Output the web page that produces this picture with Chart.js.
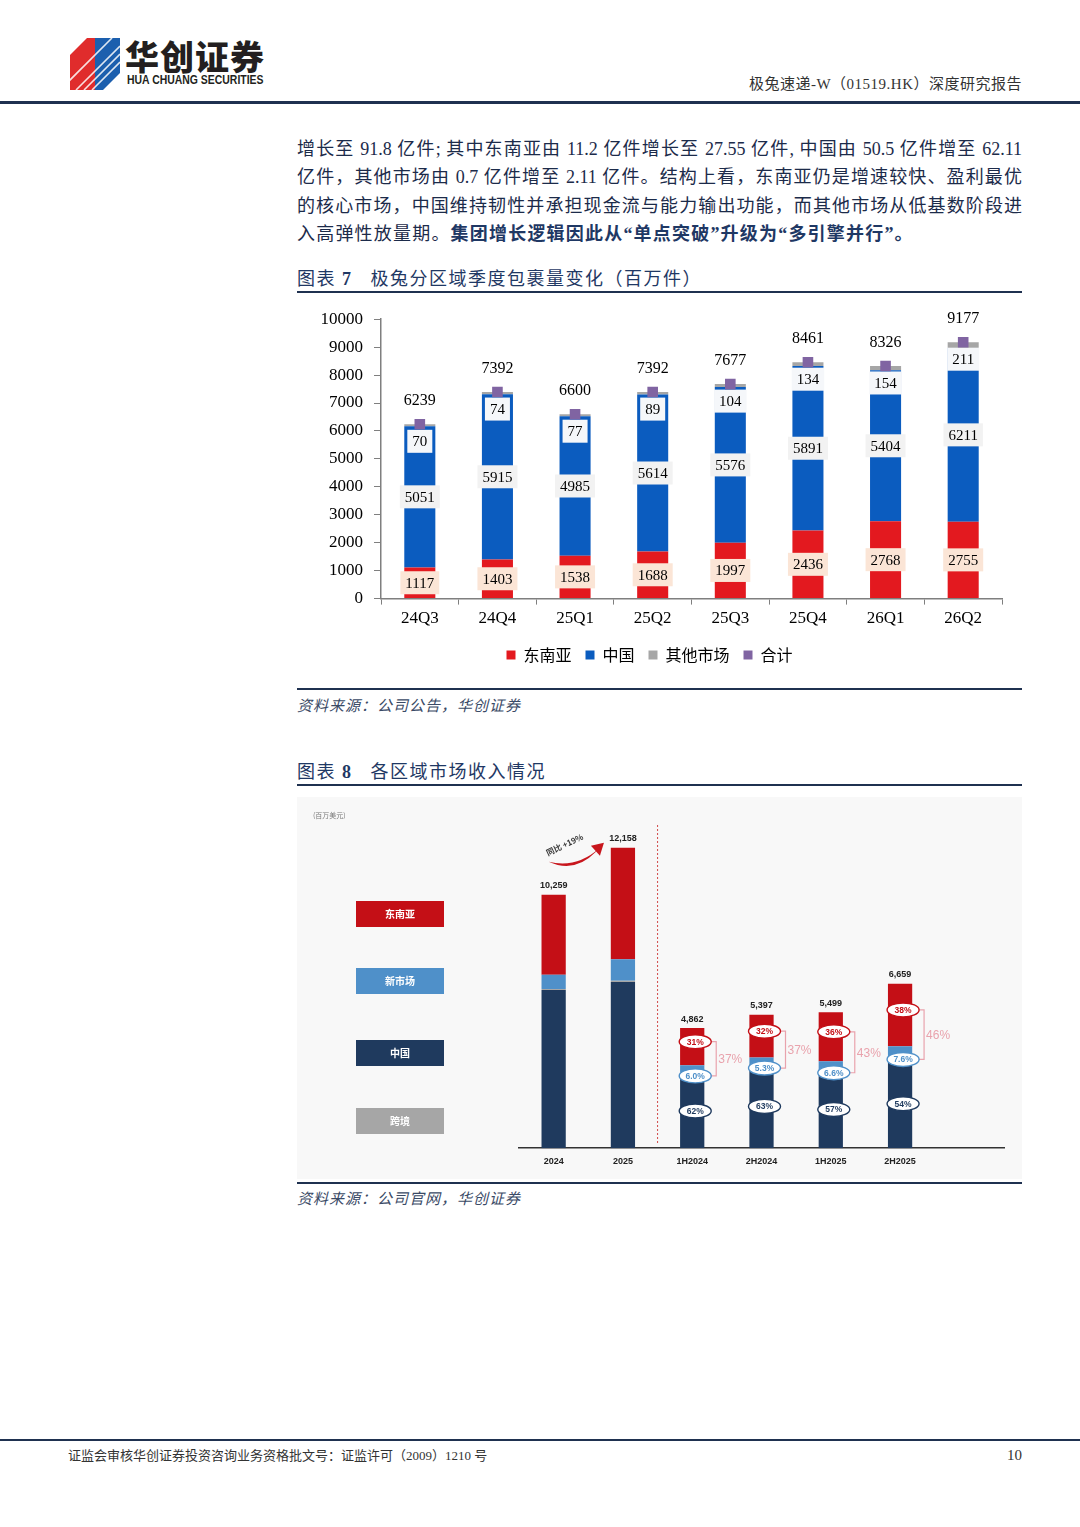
<!DOCTYPE html>
<html>
<head>
<meta charset="utf-8">
<script src="https://cdn.jsdelivr.net/npm/chart.js@4.4.1/dist/chart.umd.min.js"></script>
<style>
  body { margin: 0; width: 1080px; height: 1527px; background: #fff; position: relative; overflow: hidden;
         font-family: "Liberation Serif", "Noto Sans CJK SC", serif; color: #1c2b4a; }
  .abs { position: absolute; }
  .txt { position: absolute; left: 297px; width: 725px; height: 26px; line-height: 26px; font-size: 18px;
         text-align: justify; text-align-last: justify; }
  .rule { position: absolute; background: #1f3150; }
  .title { position: absolute; left: 297px; font-size: 18px; color: #1f3864; letter-spacing: 1.5px; }
  .src { position: absolute; left: 297px; font-size: 15px; font-style: italic; color: #3a4a66; letter-spacing: 1px; }
</style>
</head>
<body>
<!-- header -->
<svg class="abs" style="left:70px;top:38px" width="50" height="52" viewBox="0 0 50 52">
  <polygon points="0,17 17,0 25,0 25,52 0,52" fill="#e02c2c"/>
  <polygon points="25,0 50,0 50,35 33,52 25,52" fill="#1c5fae"/>
  <g stroke="#fff" stroke-width="1.6" opacity="0.85">
    <line x1="6" y1="52" x2="50" y2="8"/>
    <line x1="14" y1="52" x2="50" y2="16"/>
    <line x1="22" y1="52" x2="50" y2="24"/>
    <line x1="-2" y1="44" x2="42" y2="0"/>
  </g>
</svg>
<div class="abs" style="left:125px;top:36px;font-family:'Noto Sans CJK SC';font-weight:900;font-size:34px;color:#231f20;letter-spacing:1px;line-height:40px">华创证券</div>
<div class="abs" style="left:127px;top:73px;font-family:'Liberation Sans';font-weight:bold;font-size:12px;color:#231f20;line-height:14px;transform:scaleX(0.87);transform-origin:left top;white-space:nowrap">HUA CHUANG SECURITIES</div>
<div class="abs" style="right:58px;top:74px;font-size:15px;color:#333;line-height:20px;letter-spacing:0.5px">极兔速递-W（01519.HK）深度研究报告</div>
<div class="rule" style="left:0;top:101px;width:1080px;height:3px"></div>

<!-- body text -->
<div class="txt" style="top:136px">增长至 91.8 亿件; 其中东南亚由 11.2 亿件增长至 27.55 亿件, 中国由 50.5 亿件增至 62.11</div>
<div class="txt" style="top:164px">亿件，其他市场由 0.7 亿件增至 2.11 亿件。结构上看，东南亚仍是增速较快、盈利最优</div>
<div class="txt" style="top:193px">的核心市场，中国维持韧性并承担现金流与能力输出功能，而其他市场从低基数阶段进</div>
<div class="txt" style="top:221px;text-align-last:left;letter-spacing:1.2px">入高弹性放量期。<span style="color:#1f3864;font-weight:600">集团增长逻辑因此从“单点突破”升级为“多引擎并行”。</span></div>

<!-- figure 7 -->
<div class="title" style="top:264px">图表 <b>7</b>&nbsp;&nbsp;&nbsp;极兔分区域季度包裹量变化（百万件）</div>
<div class="rule" style="left:297px;top:291px;width:725px;height:2px"></div>
<div class="abs" style="left:297px;top:298px;width:725px;height:375px"><canvas id="c7"></canvas></div>
<div class="rule" style="left:297px;top:688px;width:725px;height:2px"></div>
<div class="src" style="top:694px">资料来源：公司公告，华创证券</div>

<!-- figure 8 -->
<div class="title" style="top:757px">图表 <b>8</b>&nbsp;&nbsp;&nbsp;各区域市场收入情况</div>
<div class="rule" style="left:297px;top:784px;width:725px;height:2px"></div>
<div class="abs" style="left:297px;top:795px;width:725px;height:386px"><canvas id="c8"></canvas></div>
<div class="rule" style="left:297px;top:1182px;width:725px;height:2px"></div>
<div class="src" style="top:1187px">资料来源：公司官网，华创证券</div>

<!-- footer -->
<div class="rule" style="left:0;top:1439px;width:1080px;height:2px"></div>
<div class="abs" style="left:68px;top:1447px;font-size:13px;color:#333;line-height:18px">证监会审核华创证券投资咨询业务资格批文号：证监许可（2009）1210 号</div>
<div class="abs" style="left:1007px;top:1446px;font-size:15px;color:#333;line-height:18px">10</div>

<script>
// ---- figure 7: quarterly parcel volume by region (million parcels)
const quarters = ['24Q3', '24Q4', '25Q1', '25Q2', '25Q3', '25Q4', '26Q1', '26Q2'];
const seaVol = [1117, 1403, 1538, 1688, 1997, 2436, 2768, 2755];
const chinaVol = [5051, 5915, 4985, 5614, 5576, 5891, 5404, 6211];
const otherVol = [70, 74, 77, 89, 104, 134, 154, 211];
const totalVol = [6239, 7392, 6600, 7392, 7677, 8461, 8326, 9177];

// ---- figure 8: revenue by region (USD million)
const periods = ['2024', '2025', '1H2024', '2H2024', '1H2025', '2H2025'];
const chinaRev = [6398, 6730, 3014, 3384, 3134, 3596];
const crossRev = [49, 49, 49, 0, 22, 27];
const newRev = [578, 869, 292, 286, 363, 506];
const seaRev = [3234, 4510, 1507, 1727, 1980, 2530];
const totalRev = [10259, 12158, 4862, 5397, 5499, 6659];
const seaPct = [null, null, '31%', '32%', '36%', '38%'];
const newPct = [null, null, '6.0%', '5.3%', '6.6%', '7.6%'];
const chinaPct = [null, null, '62%', '63%', '57%', '54%'];
const overseasPct = [null, null, '37%', '37%', '43%', '46%'];
const yoyText = '同比 +19%';

const SERIF = '"Liberation Serif", "Noto Sans CJK SC"';

function labelBox(ctx, x, y, text, bg) {
  const w = ctx.measureText(text).width + 10;
  ctx.fillStyle = bg;
  ctx.fillRect(x - w / 2, y - 11.5, w, 23);
  ctx.fillStyle = '#000';
  ctx.fillText(text, x, y + 1);
}

const labels7 = {
  id: 'labels7',
  afterDatasetDraw(chart, args) {
    if (args.index !== 0) return;
    const ctx = chart.ctx;
    const sea = chart.getDatasetMeta(0).data;
    const cn = chart.getDatasetMeta(1).data;
    const ot = chart.getDatasetMeta(2).data;
    ctx.save();
    ctx.font = '15px ' + SERIF;
    ctx.textAlign = 'center';
    ctx.textBaseline = 'middle';
    quarters.forEach((q, i) => {
      labelBox(ctx, sea[i].x, (sea[i].y + sea[i].base) / 2, String(seaVol[i]), '#fbe5d6');
      labelBox(ctx, cn[i].x, (cn[i].y + cn[i].base) / 2, String(chinaVol[i]), '#f2f2f2');
      labelBox(ctx, ot[i].x, ot[i].y + 17, String(otherVol[i]), '#f5f7fa');
    });
    ctx.restore();
  },
  afterDatasetsDraw(chart) {
    const ctx = chart.ctx;
    const pts = chart.getDatasetMeta(3).data;
    ctx.save();
    ctx.font = '16px ' + SERIF;
    ctx.fillStyle = '#000';
    ctx.textAlign = 'center';
    ctx.textBaseline = 'middle';
    pts.forEach((p, i) => ctx.fillText(String(totalVol[i]), p.x, p.y - 23));
    ctx.restore();
  }
};

new Chart(document.getElementById('c7'), {
  data: {
    labels: quarters,
    datasets: [
      { type: 'bar', label: '东南亚', data: seaVol, backgroundColor: '#e3191f', pointStyle: 'rect', order: 1 },
      { type: 'bar', label: '中国', data: chinaVol, backgroundColor: '#0b5cbf', pointStyle: 'rect', order: 1 },
      { type: 'bar', label: '其他市场', data: otherVol, backgroundColor: '#a6a6a6', pointStyle: 'rect', order: 1 },
      { type: 'line', label: '合计', data: totalVol, showLine: false, pointStyle: 'rect', pointRadius: 7.5,
        backgroundColor: '#8064a2', borderColor: '#8064a2', borderWidth: 0, order: 0 }
    ]
  },
  options: {
    responsive: true,
    maintainAspectRatio: false,
    animation: false,
    layout: { padding: { left: 0, right: 20, top: 6, bottom: 0 } },
    datasets: { bar: { barPercentage: 0.4, categoryPercentage: 1, stack: 's' } },
    scales: {
      x: {
        stacked: true,
        grid: { drawOnChartArea: false, offset: true, tickLength: 6, color: '#7f7f7f' },
        border: { color: '#7f7f7f', width: 1.5 },
        ticks: { color: '#000', font: { family: SERIF, size: 17 }, padding: 4 }
      },
      y: {
        stacked: true, min: 0, max: 10000,
        grid: { drawOnChartArea: false, tickLength: 7, color: '#7f7f7f' },
        border: { color: '#7f7f7f', width: 1.5 },
        ticks: { stepSize: 1000, color: '#000', font: { family: SERIF, size: 17 }, padding: 11,
                 callback: v => String(v) },
        afterFit(s) { s.width = 84; }
      }
    },
    plugins: {
      tooltip: { enabled: false },
      legend: {
        position: 'bottom',
        labels: { usePointStyle: true, boxWidth: 9, boxHeight: 9, padding: 14, color: '#000',
                  font: { family: '"Noto Sans CJK SC"', size: 16 },
                  sort: (a, b) => a.datasetIndex - b.datasetIndex }
      }
    }
  },
  plugins: [labels7]
});

// ---- figure 8 drawing helpers
function pctEllipse(ctx, x, y, text, color) {
  ctx.beginPath();
  ctx.ellipse(x, y, 16, 7, 0, 0, Math.PI * 2);
  ctx.fillStyle = '#fff';
  ctx.fill();
  ctx.lineWidth = 1.4;
  ctx.strokeStyle = color;
  ctx.stroke();
  ctx.fillStyle = color;
  ctx.fillText(text, x, y + 0.5);
}

const deco8 = {
  id: 'deco8',
  beforeDraw(chart) {
    const ctx = chart.ctx;
    ctx.save();
    ctx.fillStyle = '#f8f8f8';
    ctx.fillRect(0, 2, chart.width, chart.height - 4);
    ctx.restore();
  },
  afterDatasetsDraw(chart) {
    const ctx = chart.ctx;
    const ds = chart.data.datasets;
    const area = chart.chartArea;
    const xs = chart.scales.x;
    const cn = chart.getDatasetMeta(0).data;
    const nw = chart.getDatasetMeta(2).data;
    const se = chart.getDatasetMeta(3).data;
    ctx.save();

    // unit
    ctx.font = '7px "Noto Sans CJK SC"';
    ctx.fillStyle = '#777';
    ctx.textBaseline = 'middle';
    ctx.fillText('(百万美元)', 16, 20);

    // left legend boxes
    const order = ['东南亚', '新市场', '中国', '跨境'];
    const boxY = [106, 173, 245, 313];
    ctx.font = 'bold 10px "Noto Sans CJK SC"';
    ctx.textAlign = 'center';
    order.forEach((name, k) => {
      const d = ds.find(v => v.label === name);
      ctx.fillStyle = d.backgroundColor;
      ctx.fillRect(59, boxY[k], 88, 26);
      ctx.fillStyle = '#fff';
      ctx.fillText(name, 103, boxY[k] + 13);
    });

    // divider between annual and half-year bars
    const xd = (xs.getPixelForValue(1) + xs.getPixelForValue(2)) / 2;
    ctx.strokeStyle = '#d24a4a';
    ctx.lineWidth = 1;
    ctx.setLineDash([2, 2]);
    ctx.beginPath();
    ctx.moveTo(xd, area.top - 2);
    ctx.lineTo(xd, area.bottom - 5);
    ctx.stroke();
    ctx.setLineDash([]);

    // totals
    ctx.font = 'bold 9px "Liberation Sans"';
    ctx.fillStyle = '#222';
    periods.forEach((p, i) => {
      ctx.fillText(totalRev[i].toLocaleString('en-US'), se[i].x, se[i].y - 9);
    });

    // share ellipses and overseas brackets
    ctx.font = 'bold 8.5px "Liberation Sans"';
    periods.forEach((p, i) => {
      if (!seaPct[i]) return;
      const x = se[i].x + 3;
      const ySea = (se[i].y + se[i].base) / 2 - 5;
      const yNew = (nw[i].y + nw[i].base) / 2 + 7;
      const yCn = (cn[i].y + cn[i].base) / 2;
      const xb = x + 21;
      ctx.strokeStyle = '#e9a3ad';
      ctx.lineWidth = 1.2;
      ctx.beginPath();
      ctx.moveTo(x + 15, ySea); ctx.lineTo(xb, ySea); ctx.lineTo(xb, yNew); ctx.lineTo(x + 15, yNew);
      ctx.stroke();
      pctEllipse(ctx, x, ySea, seaPct[i], ds[3].backgroundColor);
      pctEllipse(ctx, x, yNew, newPct[i], ds[2].backgroundColor);
      pctEllipse(ctx, x, yCn, chinaPct[i], ds[0].backgroundColor);
      ctx.save();
      ctx.font = '12px "Liberation Sans"';
      ctx.fillStyle = '#e9a3ad';
      ctx.textAlign = 'left';
      ctx.fillText(overseasPct[i], xb + 2, (ySea + yNew) / 2 + 1);
      ctx.restore();
    });

    // yoy arrow between the two annual bars
    const x0 = se[0].x, y0 = se[0].y, x1 = se[1].x, y1 = se[1].y;
    const sx = x0 - 5, sy = y0 - 33;
    const tx = x1 - 19, ty = y1 - 5;
    ctx.fillStyle = '#c8161d';
    ctx.beginPath();
    ctx.moveTo(sx, sy);
    ctx.quadraticCurveTo(sx + 26, sy + 12, tx - 8, ty + 9);
    ctx.lineTo(tx - 4, ty + 5);
    ctx.quadraticCurveTo(sx + 28, sy + 7, sx, sy);
    ctx.fill();
    ctx.beginPath();
    ctx.moveTo(tx, ty);
    ctx.lineTo(tx - 13, ty + 3);
    ctx.lineTo(tx - 4, ty + 13);
    ctx.closePath();
    ctx.fill();
    ctx.save();
    ctx.translate(x0 + 11, y0 - 50);
    ctx.rotate(-0.45);
    ctx.font = 'bold 8px "Noto Sans CJK SC"';
    ctx.fillStyle = '#333';
    ctx.fillText(yoyText, 0, 0);
    ctx.restore();

    ctx.restore();
  }
};

new Chart(document.getElementById('c8'), {
  type: 'bar',
  data: {
    labels: [...periods, ''],
    datasets: [
      { label: '中国', data: chinaRev, backgroundColor: '#1f3a5e' },
      { label: '跨境', data: crossRev, backgroundColor: '#a6a6a6' },
      { label: '新市场', data: newRev, backgroundColor: '#4f90c9' },
      { label: '东南亚', data: seaRev, backgroundColor: '#c40f16' }
    ]
  },
  options: {
    responsive: true,
    maintainAspectRatio: false,
    animation: false,
    layout: { padding: { left: 222, right: 18, top: 32, bottom: 14 } },
    datasets: { bar: { barPercentage: 0.35, categoryPercentage: 1 } },
    scales: {
      x: {
        stacked: true,
        grid: { display: false },
        border: { color: '#333', width: 1.5 },
        ticks: { color: '#222', font: { family: '"Liberation Sans"', size: 9, weight: 'bold' }, padding: 0 }
      },
      y: { stacked: true, min: 0, max: 13000, display: false }
    },
    plugins: { legend: { display: false }, tooltip: { enabled: false } }
  },
  plugins: [deco8]
});
</script>
</body>
</html>
